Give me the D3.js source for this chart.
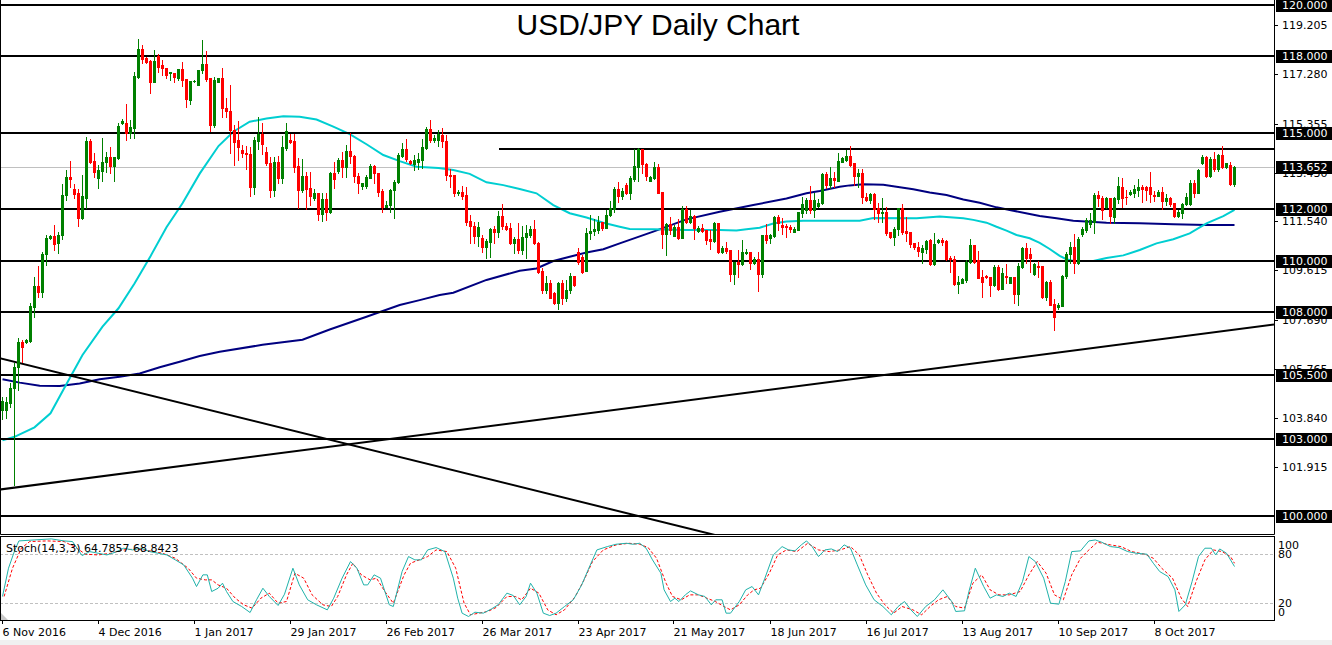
<!DOCTYPE html>
<html>
<head>
<meta charset="utf-8">
<script src="https://cdn.jsdelivr.net/npm/d3@7"></script>
<style>
  body { margin: 0; background: #fff; }
  svg { display: block; font-family: "DejaVu Sans", sans-serif; }
</style>
</head>
<body>
<svg id="chart" width="1332" height="645"></svg>
<script>
// daily bars, bar 0 = Sun 6 Nov 2016, one line = one week (Sun..Fri)
const barOpen = [
  104.15,104.15,104.41,105.00,105.82,106.82,
  106.82,106.85,108.19,109.00,108.78,110.25,
  110.90,110.95,110.67,110.99,112.56,113.28,
  112.81,112.64,111.65,112.46,114.68,113.89,
  113.24,113.51,113.84,114.06,113.70,114.02,
  115.39,115.39,114.98,115.20,117.19,118.28,
  117.92,117.82,117.00,118.02,117.65,117.55,
  117.33,117.33,117.15,117.48,117.09,116.28,
  117.02,116.85,117.45,117.68,117.13,115.30,
  117.00,117.13,115.98,115.86,115.11,114.71,
  114.32,114.22,114.17,112.89,114.68,114.95,
  114.26,113.82,112.76,113.87,113.24,114.39,
  114.71,114.68,113.70,112.76,113.32,112.85,
  112.43,112.65,111.82,112.41,111.91,113.44,
  113.50,113.93,113.67,114.28,114.09,113.32,
  112.93,112.93,113.24,113.70,113.41,112.72,
  112.11,112.17,112.76,113.08,114.10,114.36,
  113.91,113.76,113.85,113.92,114.39,115.15,
  114.71,114.72,114.91,114.68,113.35,113.35,
  112.63,112.69,112.56,111.56,111.35,110.96,
  110.87,110.54,110.74,111.22,111.13,111.74,
  111.35,111.26,110.67,110.83,110.41,110.93,
  111.00,111.22,110.67,109.59,108.85,109.13,
  108.74,108.32,109.13,108.55,108.85,109.39,
  110.35,110.15,109.60,111.06,111.17,111.20,
  111.50,111.26,111.80,112.00,112.79,112.54,
  112.96,112.63,113.20,113.67,114.35,113.78,
  113.12,113.22,113.67,112.70,111.04,111.43,
  110.96,111.32,110.87,112.02,111.52,111.74,
  111.17,111.28,111.20,110.83,110.78,111.46,
  110.32,110.48,110.41,109.47,109.93,109.86,
  110.28,110.33,109.90,110.05,109.46,111.00,
  110.87,110.96,111.72,111.37,111.35,111.30,
  111.13,111.20,111.85,111.98,112.37,111.98,
  112.13,112.24,113.39,112.96,113.22,113.13,
  113.87,113.93,114.09,113.80,113.31,113.44,
  112.50,112.37,112.60,112.04,111.85,111.90,
  111.13,110.91,111.22,112.04,111.15,111.11,
  110.67,110.52,110.35,110.44,110.80,109.86,
  110.71,110.80,110.76,110.09,110.05,109.08,
  109.13,109.24,109.93,110.61,110.02,109.37,
  109.41,109.37,109.04,109.76,108.89,109.41,
  109.13,109.37,108.69,109.76,110.50,110.25,
  109.47,109.80,109.80,108.58,109.17,108.30,
  108.17,108.22,109.41,110.25,110.52,109.90,
  111.02,111.20,111.43,111.52,112.56,112.43,
  112.11,112.43,111.69,112.39,112.86,112.50,
  112.60,112.66,112.76,112.89,112.86,112.86,
  112.56,112.54,112.70,112.33,112.43,112.24,
  111.74,111.87,112.21,112.21,113.05,112.66,
  113.80,114.06,113.31,113.96,113.57,114.13,
  113.65,113.74,113.00
];
const barHigh = [
  104.67,104.67,105.19,106.00,106.95,106.88,
  106.92,108.32,109.34,109.78,110.34,110.99,
  110.98,111.39,111.10,112.98,113.54,113.89,
  112.99,112.81,113.35,114.82,114.75,114.22,
  113.74,114.78,114.26,114.43,114.06,115.37,
  115.52,116.12,115.50,117.39,118.67,118.45,
  117.95,117.85,118.24,118.08,117.85,117.55,
  117.39,117.35,117.48,117.78,117.09,117.02,
  117.05,117.45,118.63,118.19,117.13,117.17,
  117.13,117.52,116.35,116.87,115.30,115.47,
  114.52,114.48,114.45,114.84,115.60,115.37,
  114.45,114.06,114.06,114.09,114.87,115.37,
  114.95,114.97,114.00,113.97,113.48,113.48,
  112.78,112.65,112.63,112.63,113.48,113.87,
  114.00,114.26,114.52,114.98,114.13,113.41,
  113.02,113.35,113.78,113.74,113.41,112.78,
  112.34,112.78,113.15,114.19,114.58,114.74,
  113.95,114.13,114.20,114.76,115.21,115.50,
  114.91,115.11,115.20,114.91,113.57,113.35,
  112.76,112.92,112.86,111.78,111.52,111.52,
  111.00,110.83,111.26,111.35,111.94,112.21,
  111.48,111.45,110.93,111.45,111.35,111.39,
  111.35,111.58,110.74,109.69,109.39,109.24,
  108.78,109.17,109.24,109.24,109.50,109.39,
  110.50,110.22,111.26,111.78,111.61,111.74,
  111.52,111.98,112.33,112.86,113.06,112.85,
  113.02,113.31,114.35,114.39,114.37,113.83,
  113.31,113.87,113.78,112.70,111.45,111.69,
  111.39,111.61,112.13,112.13,111.98,111.78,
  111.35,111.43,111.20,111.20,111.52,111.46,
  110.57,110.71,110.41,109.95,110.41,110.80,
  110.44,110.33,110.15,110.35,111.00,111.42,
  111.04,111.74,111.78,111.65,111.43,111.39,
  111.30,111.91,112.50,112.43,112.90,112.63,
  112.40,113.44,113.48,113.65,113.48,114.19,
  114.04,114.33,114.50,113.80,113.57,113.57,
  112.63,112.66,112.66,112.24,112.43,112.08,
  111.13,111.30,112.04,112.21,111.69,111.11,
  110.67,110.74,110.61,110.80,110.83,111.06,
  110.83,110.87,110.80,110.18,110.18,109.39,
  109.30,110.02,110.86,110.61,110.37,109.63,
  109.43,109.37,109.84,109.82,109.69,109.86,
  109.37,109.37,109.89,110.54,110.67,110.50,
  109.89,110.00,109.80,109.20,109.24,108.49,
  108.32,109.45,110.35,110.74,111.04,110.93,
  111.32,111.65,111.87,112.63,112.72,112.52,
  112.50,112.43,112.50,113.26,113.24,112.76,
  112.76,112.96,113.18,112.96,112.92,113.46,
  112.72,112.76,112.89,112.60,112.47,112.24,
  111.99,112.26,112.65,113.15,113.15,113.57,
  114.13,114.10,114.04,114.26,114.17,114.49,
  113.80,113.87,113.70
];
const barLow = [
  103.78,103.82,104.28,101.21,104.93,106.04,
  106.78,106.82,107.77,108.58,108.56,109.81,
  110.86,110.41,110.28,110.84,112.37,112.89,
  112.43,111.36,111.62,112.04,113.83,113.28,
  112.85,113.11,113.47,113.41,113.12,113.99,
  115.35,114.72,114.78,114.78,117.15,117.72,
  117.72,116.54,116.97,117.39,117.26,117.13,
  117.06,117.00,117.06,116.83,116.02,116.12,
  116.98,116.85,117.32,117.04,115.07,115.24,
  116.98,115.63,115.63,114.19,113.74,113.93,
  114.06,113.60,112.54,112.60,114.36,114.17,
  113.74,112.50,112.54,113.05,113.05,114.32,
  114.58,113.48,112.04,112.70,112.02,112.17,
  112.37,111.58,111.56,111.58,111.87,112.82,
  113.44,113.28,113.26,113.80,113.08,112.63,
  112.78,112.82,113.22,113.02,112.54,111.91,
  112.10,111.91,111.68,113.02,114.06,113.91,
  113.78,113.54,113.60,113.61,114.35,114.65,
  114.65,114.48,114.46,113.15,112.89,112.54,
  112.56,112.41,111.39,110.67,110.67,110.58,
  110.35,110.11,110.15,110.70,110.93,111.22,
  111.20,110.64,110.28,110.28,110.25,110.11,
  110.93,110.64,109.50,108.72,108.72,108.52,
  108.30,108.10,108.30,108.41,108.72,109.00,
  109.86,109.53,109.60,110.83,110.99,111.06,
  111.19,111.26,111.74,111.89,112.30,112.41,
  112.60,112.39,113.13,113.12,113.44,113.15,
  113.12,113.18,112.63,110.50,110.22,111.04,
  110.96,110.84,110.87,111.45,111.45,110.83,
  111.13,111.13,110.65,110.44,110.74,110.28,
  110.30,110.28,109.21,109.08,109.37,109.82,
  110.26,109.65,109.86,108.82,109.37,110.67,
  110.67,110.93,111.20,111.04,110.91,111.13,
  111.10,111.20,111.72,111.87,111.85,111.72,
  112.10,112.21,112.83,112.83,112.89,113.13,
  113.85,113.91,113.70,112.96,112.89,112.26,
  112.33,112.26,111.61,111.52,111.52,111.00,
  110.87,110.61,111.00,111.04,110.78,110.52,
  110.44,110.18,109.90,110.28,109.82,109.82,
  110.67,110.61,110.02,109.56,109.04,108.74,
  109.10,109.17,109.90,109.90,109.30,108.58,
  109.30,108.62,109.00,108.85,108.87,109.10,
  109.10,108.32,108.26,109.69,109.90,109.56,
  109.45,109.37,108.52,108.45,108.26,107.28,
  108.10,108.20,109.30,109.89,109.52,109.86,
  110.95,111.13,111.32,111.06,112.13,111.61,
  112.04,111.46,111.48,112.26,112.11,112.21,
  112.56,112.50,112.52,112.30,112.37,112.30,
  112.33,112.52,112.00,112.17,112.13,111.69,
  111.69,111.65,112.17,112.17,112.50,112.63,
  113.78,113.26,113.28,113.52,113.52,113.61,
  113.63,112.96,112.92
];
const barClose = [
  104.50,104.47,105.00,105.84,106.80,106.63,
  106.88,108.22,109.00,108.78,110.25,110.89,
  110.95,110.63,110.99,112.56,113.28,113.20,
  112.59,111.65,112.54,114.68,113.87,113.47,
  113.54,113.84,114.06,113.71,114.06,115.26,
  115.46,114.98,115.22,117.22,118.28,117.87,
  117.78,117.00,117.82,117.59,117.52,117.26,
  117.38,117.20,117.48,117.06,116.31,117.02,
  117.03,117.45,117.68,117.09,115.30,117.06,
  117.13,115.98,115.86,115.11,114.65,114.43,
  114.22,114.15,112.89,114.71,114.95,114.56,
  113.80,112.76,113.87,113.24,114.45,115.07,
  114.65,113.67,112.76,113.32,112.78,112.54,
  112.65,111.82,112.41,111.91,113.44,113.18,
  113.93,113.67,114.28,114.09,113.32,113.02,
  113.02,113.28,113.70,113.41,112.69,112.11,
  112.17,112.76,113.08,114.13,114.36,113.96,
  113.80,113.93,113.98,114.46,115.15,114.71,
  114.78,114.94,114.68,113.35,113.30,112.66,
  112.69,112.54,111.52,111.35,110.96,111.32,
  110.54,110.76,111.22,111.13,111.74,111.35,
  111.24,110.67,110.83,110.41,110.93,111.09,
  111.22,110.67,109.56,108.85,109.13,108.55,
  108.32,109.13,108.55,108.85,109.39,109.04,
  109.95,109.56,111.06,111.17,111.24,111.52,
  111.26,111.80,112.04,112.79,112.54,112.73,
  112.63,113.22,113.70,114.35,113.78,113.31,
  113.28,113.67,112.66,111.04,111.43,111.19,
  111.32,110.87,112.02,111.52,111.74,111.26,
  111.28,111.17,110.80,110.78,111.46,110.32,
  110.48,110.37,109.47,109.93,109.86,110.33,
  110.33,109.90,110.05,109.46,111.00,110.80,
  111.00,111.72,111.46,111.30,111.30,111.22,
  111.24,111.91,112.21,112.37,111.98,112.37,
  112.26,113.39,112.96,113.22,113.15,113.89,
  114.00,114.09,113.74,113.31,113.44,112.50,
  112.37,112.60,112.00,111.87,111.90,111.06,
  110.91,111.22,112.04,111.13,111.09,110.65,
  110.52,110.38,110.48,110.76,109.86,110.65,
  110.80,110.74,110.05,110.05,109.08,109.17,
  109.26,109.95,110.61,109.95,109.33,109.17,
  109.34,109.04,109.76,108.89,109.50,109.35,
  109.37,108.69,109.78,110.50,110.09,110.09,
  109.85,109.76,108.58,109.17,108.26,107.80,
  108.26,109.41,110.25,110.54,109.90,110.84,
  111.22,111.58,111.58,112.56,112.43,111.98,
  112.43,111.74,112.43,112.92,112.43,112.48,
  112.70,112.79,112.89,112.79,112.76,112.59,
  112.54,112.70,112.34,112.43,112.21,111.74,
  111.91,112.21,112.50,113.05,112.66,113.54,
  114.06,113.31,113.96,113.57,114.13,113.65,
  113.80,113.00,113.652
];

// moving averages: [bar, price]
const maFast = [
  [0,102.96],[3,103.10],[8,103.47],[12,104.02],[16,105.17],[20,106.30],[25,107.41],
  [29,108.13],[33,109.10],[37,110.17],[41,111.30],[45,112.24],[49.3,113.40],[54,114.48],
  [57.7,115.04],[61.8,115.43],[66,115.56],[70.2,115.65],[74.3,115.63],[78.5,115.52],
  [82.7,115.24],[86.8,114.95],[91,114.55],[95.2,114.13],[99.3,113.89],[103.5,113.67],
  [109,113.62],[112.7,113.54],[116.8,113.39],[121,113.06],[125.2,112.95],[129.3,112.80],
  [133.5,112.63],[137.7,112.17],[141.8,111.85],[146,111.68],[150.2,111.48],[154.3,111.32],
  [156.8,111.23],[162.7,111.22],[171,111.19],[179.3,111.19],[183.5,111.17],[186,111.22],
  [189.3,111.28],[192.7,111.45],[196,111.53],[200.2,111.56],[209.3,111.56],[214.3,111.56],
  [217.7,111.66],[228.5,111.65],[234.3,111.72],[240.2,111.65],[242.7,111.59],[246,111.48],
  [248.5,111.32],[251,111.17],[253.5,111.00],[256.8,110.87],[259.3,110.69],[261.8,110.45],
  [264.3,110.18],[266,110.05],[267.7,109.98],[272.7,109.98],[276,110.10],[280.2,110.20],
  [284.3,110.41],[288.5,110.67],[292.7,110.83],[296.8,111.06],[301,111.45],[305.2,111.74],
  [308,111.98]
];
const maSlow = [
  [0,105.35],[4.3,105.22],[9.3,105.10],[14.3,105.09],[19.3,105.19],[24.3,105.35],
  [29.3,105.45],[34.3,105.58],[39.3,105.82],[44.3,106.04],[49.3,106.26],[54.3,106.43],
  [65,106.70],[75,106.90],[81.8,107.30],[91,107.80],[99.3,108.26],[104.3,108.45],
  [109.3,108.65],[112.7,108.74],[121,109.24],[129.3,109.60],[133.5,109.69],[137.7,109.98],
  [141.8,110.15],[146,110.31],[150.2,110.44],[154.3,110.67],[162.7,111.13],[171,111.61],
  [179.3,111.91],[187.7,112.17],[196,112.43],[201,112.63],[204.3,112.72],[209.3,112.89],
  [211.8,112.94],[215.2,112.98],[220.2,112.96],[223.5,112.89],[227.7,112.79],[231.8,112.66],
  [236,112.56],[240.2,112.39],[244.3,112.26],[248.5,112.08],[252.7,111.95],[256.8,111.82],
  [259.3,111.74],[263.5,111.65],[267.7,111.56],[276,111.48],[284.3,111.46],[292.7,111.42],
  [301,111.39],[308,111.39]
];

// Stoch(14,3,3) main and signal: [bar, value]
const stochMain = [
  [0,27.8],[1.5,62.7],[3.1,85.3],[4.1,96.4],[7.9,97.6],[12.2,98.9],[15.4,96.4],[17.5,95.6],
  [19.9,78.3],[21.8,83.2],[23.9,81.2],[26.1,79.1],[28.2,82.4],[30.3,87.4],[32.5,85.3],
  [34.6,87.4],[36.8,83.2],[38.9,81.2],[41.1,79.1],[43.2,73.0],[45.3,66.8],[47.5,50.4],
  [48.5,40.1],[50.1,54.5],[51.2,54.5],[52.3,33.9],[53.9,38.0],[55,44.2],[56,33.9],
  [57.6,21.6],[59.8,15.4],[61.9,8.0],[63.5,23.7],[65.1,38.0],[66.7,27.8],[68.9,16.7],
  [70.5,30.6],[72.6,62.7],[74.2,42.1],[76.3,23.7],[78.5,17.5],[81.2,11.3],[82.8,25.7],
  [84.9,50.4],[87,70.9],[88.6,62.7],[90.3,42.1],[91.3,42.1],[92.9,54.5],[94.5,50.4],
  [96.7,17.5],[97.7,15.4],[99.9,58.6],[101.5,77.1],[103.1,73.0],[104.7,73.0],[106.3,85.3],
  [108.4,88.2],[110.6,83.2],[112.7,50.4],[113.8,25.7],[114.9,7.2],[116.5,3.1],[118.1,8.4],
  [120.2,7.2],[122.3,12.6],[123.9,17.5],[126.1,31.9],[127.7,29.0],[129.3,17.5],[130.9,27.8],
  [132,44.2],[133.6,31.9],[135.2,7.2],[136.8,4.3],[138.4,7.2],[140.5,15.4],[142.7,23.7],
  [144.8,42.1],[146.4,60.6],[148.6,85.3],[151.2,89.4],[153.4,92.3],[156,93.5],[157.6,92.3],
  [159.3,93.5],[160.9,87.4],[162.5,73.0],[164.6,56.5],[165.4,36.0],[167,21.6],[168.1,25.7],
  [169.1,21.6],[170.7,29.8],[172,34.7],[174,29.8],[175.6,27.8],[177.2,17.5],[178.3,23.7],
  [179.9,23.7],[180.9,7.2],[182,7.2],[184.2,21.6],[185.8,36.0],[187.4,40.1],[189,29.8],
  [190.6,50.4],[192.7,79.1],[194.9,89.4],[196.5,85.3],[198.1,84.1],[199.7,91.5],[201,96.4],
  [202.4,89.4],[204,77.1],[205.6,85.3],[207.2,86.5],[208.8,83.2],[210.4,91.5],[212,87.4],
  [213.7,66.8],[215.8,42.1],[217.9,23.7],[220.1,15.4],[222.2,5.2],[223.9,15.4],[225.5,21.6],
  [227.1,11.3],[228.7,3.1],[230.8,15.4],[233,23.7],[235.1,36.0],[237.3,21.6],[238.3,9.3],
  [240.5,10.1],[241.6,33.9],[243.2,62.7],[245.3,40.1],[246.9,25.7],[248.5,29.8],[250.1,27.8],
  [251.7,31.9],[253.4,27.8],[255,46.3],[256.6,77.1],[258.2,70.9],[260.3,50.4],[262,19.5],
  [264.1,18.3],[265.7,46.3],[267.3,83.2],[269.5,84.1],[271.6,96.4],[273.2,97.6],[274.8,94.8],
  [277,89.4],[279.1,88.2],[281.3,83.2],[283.4,81.2],[286.1,80.0],[287.7,68.9],[289.3,58.6],
  [291.4,52.4],[293.1,36.0],[294.1,9.3],[295.7,17.5],[297.4,46.3],[299,77.1],[300.6,87.4],
  [302.2,87.4],[303.3,79.1],[304.3,86.5],[306,81.2],[308,64.79]
];
const stochSignal = [
  [0.4,27.8],[2.5,62.7],[4.7,87.4],[6.8,95.6],[11.1,96.4],[15.4,95.6],[18.6,87.4],[20.7,80.0],
  [23.9,79.1],[27.1,81.2],[30.3,85.3],[33.6,86.5],[36.8,84.1],[40,81.2],[43.2,75.0],
  [46.4,62.7],[48.5,50.4],[50.7,48.3],[52.3,48.3],[53.9,42.1],[56,38.0],[58.2,25.7],
  [60.3,17.5],[62.4,13.4],[64.6,25.7],[66.7,31.9],[68.9,19.5],[71,21.6],[73.1,56.5],
  [75.3,50.4],[77.4,29.8],[80.1,17.5],[82.2,15.4],[83.8,27.8],[86,54.5],[87.6,68.9],
  [89.7,54.5],[91.9,48.3],[93.5,50.4],[95.6,33.9],[97.7,19.5],[100.4,54.5],[102,68.9],
  [104.2,73.0],[106.3,77.1],[108.4,85.3],[111.1,83.2],[113.3,62.7],[115.4,19.5],[117,5.2],
  [119.1,7.2],[121.3,9.3],[123.4,14.2],[126.1,27.8],[128.2,27.8],[129.8,23.7],[132,38.0],
  [134.1,31.9],[136.3,11.3],[138.4,5.2],[140.5,11.3],[143.2,27.8],[145.4,48.3],[147.5,70.9],
  [150.2,85.3],[153.4,91.5],[156.6,93.5],[159.3,92.3],[161.4,88.2],[163.5,75.0],[165.9,44.2],
  [167.5,27.8],[169.7,23.7],[171.8,29.8],[174,29.8],[176.1,25.7],[178.2,21.6],[180.4,15.4],
  [182,11.3],[184.2,17.5],[186.3,29.8],[187.9,36.0],[189.5,38.0],[191.7,56.5],[193.8,79.1],
  [196,85.3],[198.6,83.2],[201.3,93.5],[204,85.3],[206.7,83.2],[209.4,85.3],[212,89.4],
  [214.2,79.1],[216.3,54.5],[218.5,31.9],[220.6,17.5],[222.8,7.2],[224.9,15.4],[227.6,11.3],
  [229.8,5.2],[231.9,15.4],[234,23.7],[236.2,27.8],[238.3,15.4],[240.5,13.4],[242.6,44.2],
  [244.8,54.5],[246.9,36.0],[249.1,29.8],[251.7,29.8],[254.4,33.9],[256.6,54.5],[258.7,70.9],
  [260.9,56.5],[263,29.8],[265.2,23.7],[267.3,54.5],[269.5,75.0],[271.6,85.3],[273.7,94.8],
  [277,91.5],[279.6,89.4],[282.3,83.2],[285.5,80.0],[287.7,75.0],[289.8,62.7],[292.5,50.4],
  [294.7,25.7],[296.3,15.4],[298.4,46.3],[300.6,73.0],[302.7,85.3],[304.9,83.2],[307,77.1],
  [308,68.84]
];

const levelLines = [120, 118, 115, 112, 110, 108, 105.5, 103, 100];
const resistance = {price: 114.37, fromBar: 124};
const trendDown = [[0, 106.15], [100, 102.28]];
const trendUp = [[0, 101.05], [300, 107.13]];
const lastPrice = 113.652;
const priceTicks = [119.205, 117.28, 115.355, 113.43, 111.54, 109.615, 107.69, 105.765, 103.84, 101.915];
const stochLevels = [100, 80, 20, 0];
const dateBars = [0, 24, 48, 72, 96, 120, 144, 168, 192, 216, 240, 264, 288];
const dateLabels = ['6 Nov 2016', '4 Dec 2016', '1 Jan 2017', '29 Jan 2017', '26 Feb 2017', '26 Mar 2017',
  '23 Apr 2017', '21 May 2017', '18 Jun 2017', '16 Jul 2017', '13 Aug 2017', '10 Sep 2017', '8 Oct 2017'];
const stochText = 'Stoch(14,3,3) 64.7857 68.8423';

const W = 1332, H = 645;
const plotRight = 1274;          // right edge of the chart, price scale starts here
const mainBottom = 534, subTop = 536, subBottom = 620;

const svg = d3.select('#chart');
const x = d3.scaleLinear().domain([0, 308]).range([2.5, 1234.5]);
const y = d3.scaleLinear().domain([100, 120]).range([516, 5]);
const ys = d3.scaleLinear().domain([0, 100]).range([619, 538]);

svg.append('rect').attr('width', W).attr('height', H).attr('fill', '#fff');

let defs = svg.append('defs');
defs.append('clipPath').attr('id', 'mainClip')
    .append('rect').attr('x', 1).attr('y', 0).attr('width', plotRight - 1).attr('height', mainBottom);
defs.append('clipPath').attr('id', 'subClip')
    .append('rect').attr('x', 1).attr('y', subTop + 1).attr('width', plotRight - 1).attr('height', subBottom - subTop - 1);

let main = svg.append('g').attr('clip-path', 'url(#mainClip)');

// current bid line
main.append('line')
    .attr('x1', 0).attr('x2', plotRight)
    .attr('y1', Math.round(y(lastPrice)) + 0.5).attr('y2', Math.round(y(lastPrice)) + 0.5)
    .attr('stroke', '#c0c0c0').attr('stroke-width', 1);

// moving averages (under the candles)
let maLine = d3.line().x(d => x(d[0])).y(d => y(d[1]));
main.append('path').datum(maSlow).attr('d', maLine)
    .attr('fill', 'none').attr('stroke', '#000080').attr('stroke-width', 2);
main.append('path').datum(maFast).attr('d', maLine)
    .attr('fill', 'none').attr('stroke', '#00ced1').attr('stroke-width', 2);

// horizontal levels and trend lines
levelLines.forEach(v => {
    main.append('line')
        .attr('x1', 0).attr('x2', plotRight)
        .attr('y1', y(v)).attr('y2', y(v))
        .attr('stroke', '#000').attr('stroke-width', 2).attr('shape-rendering', 'crispEdges');
});
main.append('line')
    .attr('x1', x(resistance.fromBar)).attr('x2', plotRight)
    .attr('y1', y(resistance.price)).attr('y2', y(resistance.price))
    .attr('stroke', '#000').attr('stroke-width', 2).attr('shape-rendering', 'crispEdges');

[trendDown, trendUp].forEach(t => {
    let p = d3.scaleLinear().domain([t[0][0], t[1][0]]).range([t[0][1], t[1][1]]);
    let b0 = x.invert(0), b1 = x.invert(plotRight);
    main.append('line')
        .attr('x1', 0).attr('y1', y(p(b0)))
        .attr('x2', plotRight).attr('y2', y(p(b1)))
        .attr('stroke', '#000').attr('stroke-width', 2);
});

// candles
let bars = d3.range(barOpen.length);
let candles = main.append('g').attr('shape-rendering', 'crispEdges');
bars.forEach(i => {
    let o = barOpen[i], c = barClose[i], h = barHigh[i], l = barLow[i];
    let col = c >= o ? '#008000' : '#ff0000';
    let cx = x(i);
    let yh = Math.round(y(h)), yl = Math.round(y(l));
    candles.append('rect')
        .attr('x', cx - 0.5).attr('y', yh)
        .attr('width', 1).attr('height', Math.max(1, yl - yh + 1))
        .attr('fill', col);
    let yt = Math.round(y(Math.max(o, c))), yb = Math.round(y(Math.min(o, c)));
    candles.append('rect')
        .attr('x', cx - 1.5).attr('y', yt)
        .attr('width', 3).attr('height', Math.max(1, yb - yt + 1))
        .attr('fill', col);
});

// frames: main window has no top edge
let frame = svg.append('g').attr('stroke', '#000').attr('stroke-width', 1).attr('fill', 'none');
frame.append('path').attr('d', `M0.5,0V${mainBottom + 0.5}H${plotRight + 0.5}V0`);
frame.append('rect').attr('x', 0.5).attr('y', subTop + 0.5)
    .attr('width', plotRight).attr('height', subBottom - subTop);

// grey corner mark of the sub window
svg.append('path').attr('d', `M1,${subBottom - 7}L1,${subBottom}L8,${subBottom}Z`).attr('fill', '#c8c8c8');

// title
svg.append('text')
    .attr('x', 658).attr('y', 35)
    .attr('text-anchor', 'middle')
    .style('font-family', '"Liberation Sans", Arial, sans-serif')
    .style('font-size', '30px')
    .attr('fill', '#000')
    .text('USD/JPY Daily Chart');

// price axis
let axis = svg.append('g').style('font-size', '11px');
priceTicks.forEach(v => {
    let py = Math.round(y(v)) + 0.5;
    axis.append('line').attr('x1', plotRight).attr('x2', plotRight + 4)
        .attr('y1', py).attr('y2', py).attr('stroke', '#000');
    axis.append('text').attr('x', 1282).attr('y', py).attr('dy', '0.35em')
        .attr('fill', '#000').text(d3.format('.3f')(v));
});
levelLines.concat([lastPrice]).forEach(v => {
    let py = y(v);
    axis.append('rect').attr('x', plotRight + 2).attr('y', Math.round(py) - 6)
        .attr('width', W - plotRight - 2).attr('height', 13).attr('fill', '#000');
    axis.append('text').attr('x', 1282).attr('y', Math.round(py) + 0.5).attr('dy', '0.35em')
        .attr('fill', '#fff').text(d3.format('.3f')(v));
});

// stochastic sub window
let sub = svg.append('g').attr('clip-path', 'url(#subClip)');
[80, 20].forEach(v => {
    sub.append('line').attr('x1', 0).attr('x2', plotRight)
        .attr('y1', Math.round(ys(v)) + 0.5).attr('y2', Math.round(ys(v)) + 0.5)
        .attr('stroke', '#c0c0c0').attr('stroke-dasharray', '3,2');
});
let stLine = d3.line().x(d => x(d[0])).y(d => ys(d[1]));
sub.append('path').datum(stochSignal).attr('d', stLine)
    .attr('fill', 'none').attr('stroke', '#ff0000').attr('stroke-width', 1).attr('stroke-dasharray', '3,2');
sub.append('path').datum(stochMain).attr('d', stLine)
    .attr('fill', 'none').attr('stroke', '#20b2aa').attr('stroke-width', 1);

svg.append('text').attr('x', 6).attr('y', 548).attr('dy', '0.35em')
    .style('font-size', '11px').attr('fill', '#000').text(stochText);

stochLevels.forEach(v => {
    let ty = Math.min(612, Math.max(545, ys(v)));
    svg.append('text').attr('x', 1278).attr('y', ty).attr('dy', '0.35em')
        .style('font-size', '11px').attr('fill', '#000').text(v);
});

// date axis
dateBars.forEach((b, k) => {
    let dx = Math.round(x(b)) - 0.5;
    svg.append('line').attr('x1', dx).attr('x2', dx).attr('y1', subBottom).attr('y2', subBottom + 4)
        .attr('stroke', '#000');
    svg.append('text').attr('x', dx).attr('y', 636)
        .style('font-size', '11px').attr('fill', '#000').text(dateLabels[k]);
});

svg.append('rect').attr('x', 0).attr('y', 640).attr('width', W).attr('height', 5).attr('fill', '#f0f0f0');
</script>
</body>
</html>
